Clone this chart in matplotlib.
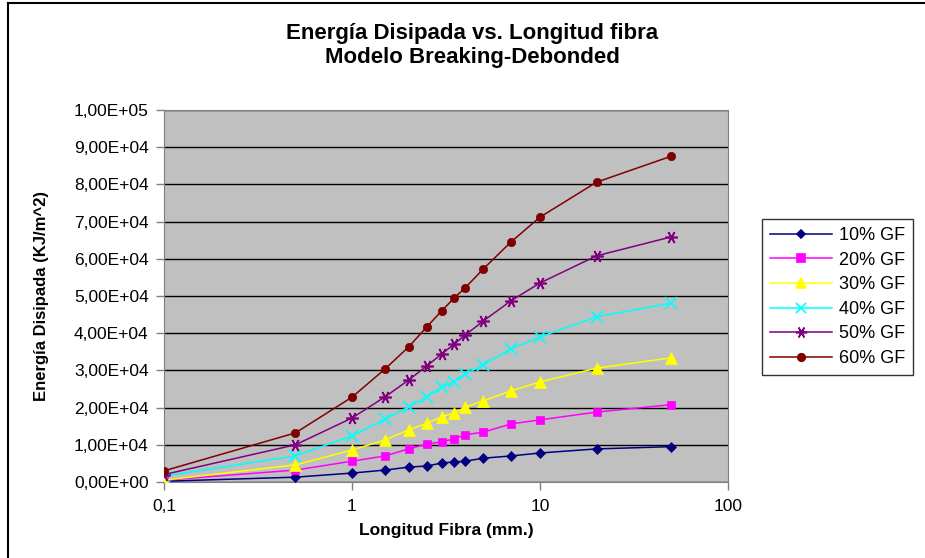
import numpy as np
import matplotlib
matplotlib.use('Agg')
import matplotlib.pyplot as plt
from matplotlib.lines import Line2D
from matplotlib.ticker import FuncFormatter, FixedLocator, NullLocator

plt.rcParams['font.family'] = ['Liberation Sans', 'DejaVu Sans']

# Longitud de fibra (mm.)
longitud = [0.1, 0.5, 1, 1.5, 2, 2.5, 3, 3.5, 4, 5, 7, 10, 20, 50]

# Energia disipada (KJ/m^2) por porcentaje de fibra de vidrio
gf10 = [200, 1300, 2400, 3200, 4000, 4300, 5100, 5400, 5600, 6400, 7000, 7800, 8900, 9500]
gf20 = [500, 3200, 5600, 7000, 8900, 10200, 10800, 11600, 12700, 13400, 15600, 16700, 18800, 20800]
gf30 = [500, 4600, 8600, 11300, 14000, 15800, 17500, 18600, 20100, 21800, 24500, 26900, 30600, 33400]
gf40 = [1600, 7000, 12400, 16900, 20200, 22900, 25500, 26900, 29000, 31500, 35800, 39000, 44400, 48100]
gf50 = [2000, 10000, 17200, 22900, 27400, 31200, 34400, 37100, 39500, 43300, 48700, 53500, 60800, 65900]
gf60 = [3000, 13200, 22800, 30400, 36300, 41700, 46000, 49500, 52200, 57300, 64500, 71200, 80600, 87600]

series = [gf10, gf20, gf30, gf40, gf50, gf60]
etiquetas = ['10% GF', '20% GF', '30% GF', '40% GF', '50% GF', '60% GF']
colores = ['#000080', '#FF00FF', '#FFFF00', '#00FFFF', '#800080', '#800000']
marcas = ['D', 's', '^', 'x', (6, 2, 90), 'o']
tam = [5, 6, 8, 8, 9, 6]

fig = plt.figure(figsize=(9.25, 5.58), dpi=100)
ax = fig.add_axes([164/925, 1-482/558, 564/925, 372/558])
ax.set_facecolor('#C0C0C0')

for y, lab, c, m, s in zip(series, etiquetas, colores, marcas, tam):
    ax.plot(longitud, y, color=c, marker=m, markersize=s, linewidth=1.1,
            markeredgewidth=1.2 if m in ('x', (6, 2, 90)) else 0.5,
            markeredgecolor=c, label=lab, zorder=3)

ax.set_xscale('log')
ax.set_xlim(0.1, 100)
ax.set_ylim(0, 100000)
ax.xaxis.set_major_locator(FixedLocator([0.1, 1, 10, 100]))
ax.xaxis.set_minor_locator(NullLocator())
ax.xaxis.set_major_formatter(FuncFormatter(lambda v, p: ('%g' % v).replace('.', ',')))
ax.set_yticks(np.arange(0, 100001, 10000))
ax.yaxis.set_major_formatter(FuncFormatter(
    lambda v, p: ('%.2E' % v).replace('.', ',')))
ax.grid(axis='y', color='black', linewidth=1)
ax.set_axisbelow(True)
for sp in ax.spines.values():
    sp.set_color('#808080')
ax.tick_params(axis='both', direction='out', length=6, width=1, color='#808080',
               labelsize=12.5, labelcolor='black')
ax.tick_params(axis='y', pad=5)
ax.tick_params(axis='x', pad=6)

ax.set_xlabel('Longitud Fibra (mm.)', fontsize=12.5, fontweight='bold', labelpad=7)
ax.set_ylabel('Energía Disipada (KJ/m^2)', fontsize=12, fontweight='bold', labelpad=18)

fig.text(472/925, 1-33/558, 'Energía Disipada vs. Longitud fibra', ha='center',
         va='center', fontsize=16, fontweight='bold')
fig.text(472/925, 1-57/558, 'Modelo Breaking-Debonded', ha='center',
         va='center', fontsize=16, fontweight='bold')

handles = [Line2D([0], [0], color=c, marker=m, markersize=s * 0.9,
                  markeredgecolor=c, markeredgewidth=1.2, linewidth=1.1)
           for c, m, s in zip(colores, marcas, tam)]
leg = fig.legend(handles, etiquetas, loc='upper left',
                 bbox_to_anchor=(762/925, 1-219/558), fontsize=13,
                 frameon=True, fancybox=False, handlelength=3.4,
                 labelspacing=0.42, borderpad=0.45, handletextpad=0.4,
                 borderaxespad=0)
leg.get_frame().set_edgecolor('black')
leg.get_frame().set_linewidth(1)

# marco exterior del grafico
fig.add_artist(Line2D([8/925, 1], [1-3/558, 1-3/558], color='black', linewidth=1.5))
fig.add_artist(Line2D([8/925, 8/925], [0, 1-3/558], color='black', linewidth=1.5))

fig.savefig('out.png', dpi=100, facecolor='white')
